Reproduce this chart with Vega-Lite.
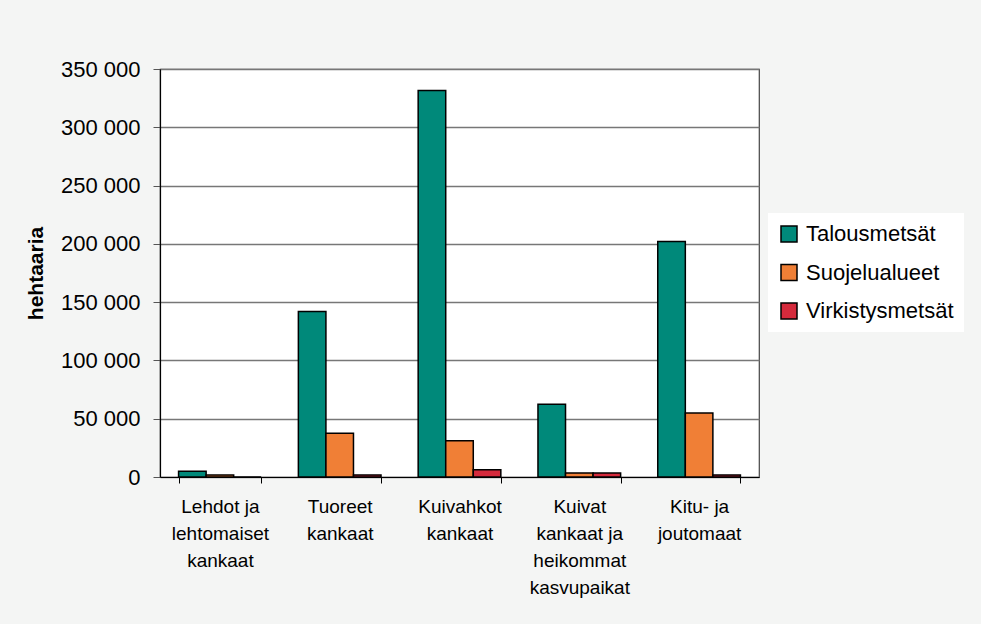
{
  "$schema": "https://vega.github.io/schema/vega-lite/v6.json",
  "autosize": {"type": "none"},
  "padding": {"left": 160, "top": 69, "right": 222, "bottom": 147},
  "width": 599,
  "height": 408,
  "background": "#f4f5f4",
  "config": {
    "font": "Liberation Sans",
    "view": {"fill": "white", "stroke": "#444", "strokeWidth": 1.2}
  },
  "data": {
    "values": [
      {"luokka": "Lehdot ja|lehtomaiset|kankaat", "sarja": "Talousmetsät", "ha": 5000},
      {"luokka": "Lehdot ja|lehtomaiset|kankaat", "sarja": "Suojelualueet", "ha": 1800},
      {"luokka": "Lehdot ja|lehtomaiset|kankaat", "sarja": "Virkistysmetsät", "ha": 0},
      {"luokka": "Tuoreet|kankaat", "sarja": "Talousmetsät", "ha": 142000},
      {"luokka": "Tuoreet|kankaat", "sarja": "Suojelualueet", "ha": 37500},
      {"luokka": "Tuoreet|kankaat", "sarja": "Virkistysmetsät", "ha": 1800},
      {"luokka": "Kuivahkot|kankaat", "sarja": "Talousmetsät", "ha": 331500},
      {"luokka": "Kuivahkot|kankaat", "sarja": "Suojelualueet", "ha": 31000},
      {"luokka": "Kuivahkot|kankaat", "sarja": "Virkistysmetsät", "ha": 6200},
      {"luokka": "Kuivat|kankaat ja|heikommat|kasvupaikat", "sarja": "Talousmetsät", "ha": 62500},
      {"luokka": "Kuivat|kankaat ja|heikommat|kasvupaikat", "sarja": "Suojelualueet", "ha": 3500},
      {"luokka": "Kuivat|kankaat ja|heikommat|kasvupaikat", "sarja": "Virkistysmetsät", "ha": 3500},
      {"luokka": "Kitu- ja|joutomaat", "sarja": "Talousmetsät", "ha": 202000},
      {"luokka": "Kitu- ja|joutomaat", "sarja": "Suojelualueet", "ha": 54800},
      {"luokka": "Kitu- ja|joutomaat", "sarja": "Virkistysmetsät", "ha": 1800}
    ]
  },
  "mark": {"type": "bar", "stroke": "black", "strokeWidth": 1.5},
  "encoding": {
    "x": {
      "field": "luokka",
      "type": "nominal",
      "sort": null,
      "scale": {"paddingInner": 0.31, "paddingOuter": 0.155},
      "axis": {
        "title": null,
        "labelAngle": 0,
        "labelExpr": "split(datum.label, '|')",
        "labelFont": "Liberation Sans",
        "labelFontSize": 19,
        "labelLineHeight": 27,
        "labelColor": "black",
        "labelPadding": 14,
        "labelBaseline": "top",
        "tickBand": "extent",
        "tickSize": 6,
        "tickColor": "black",
        "domainColor": "black",
        "domainWidth": 1.2,
        "grid": false
      }
    },
    "xOffset": {"field": "sarja", "type": "nominal", "sort": ["Talousmetsät", "Suojelualueet", "Virkistysmetsät"], "scale": {"paddingInner": 0, "paddingOuter": 0}},
    "y": {
      "field": "ha",
      "type": "quantitative",
      "scale": {"domain": [0, 350000], "nice": false},
      "axis": {
        "title": "hehtaaria",
        "titleFont": "Liberation Sans",
        "titleFontSize": 21,
        "titleFontWeight": "bold",
        "titleColor": "black",
        "titlePadding": 14,
        "values": [0, 50000, 100000, 150000, 200000, 250000, 300000, 350000],
        "labelExpr": "replace(format(datum.value, ',d'), ',', ' ')",
        "labelFont": "Liberation Sans",
        "labelFontSize": 22,
        "labelColor": "black",
        "labelPadding": 13,
        "tickSize": 7,
        "tickColor": "#555",
        "domainColor": "black",
        "domainWidth": 1.2,
        "grid": true,
        "gridColor": "#777777",
        "gridWidth": 1.5
      }
    },
    "fill": {
      "field": "sarja",
      "type": "nominal",
      "sort": ["Talousmetsät", "Suojelualueet", "Virkistysmetsät"],
      "scale": {"domain": ["Talousmetsät", "Suojelualueet", "Virkistysmetsät"], "range": ["#00897a", "#f07f36", "#d52a3c"]},
      "legend": {
        "title": null,
        "orient": "none",
        "legendX": 608,
        "legendY": 144,
        "fillColor": "white",
        "padding": 10,
        "symbolType": "square",
        "symbolSize": 256,
        "symbolStrokeColor": "black",
        "symbolStrokeWidth": 1.5,
        "labelFont": "Liberation Sans",
        "labelFontSize": 22,
        "labelColor": "black",
        "labelOffset": 6,
        "rowPadding": 16.5
      }
    }
  }
}
